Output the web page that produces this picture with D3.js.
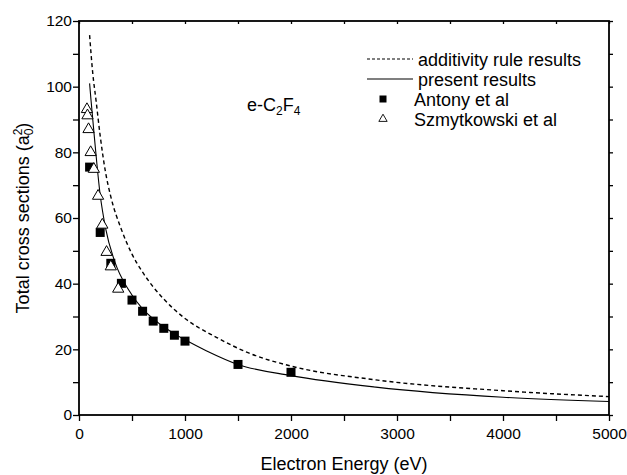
<!DOCTYPE html>
<html>
<head>
<meta charset="utf-8">
<script src="https://cdn.jsdelivr.net/npm/d3@7"></script>
<style>
  html, body { margin: 0; padding: 0; background: #fff; }
  svg { display: block; font-family: "Liberation Sans", Arial, sans-serif; }
</style>
</head>
<body>
<svg id="chart" width="627" height="475"></svg>
<script>
// ---- data ----
const additivityE = [100, 130, 160, 200, 250, 300, 400, 500, 600, 700, 800, 1000, 1300, 1600, 2000, 2800, 4000, 5000];
const additivityQ = [115.7, 104, 96, 85, 74, 66.5, 56.5, 49, 43.5, 39, 35.3, 29.4, 23.6, 18.9, 14.9, 10.7, 7.4, 5.6];

const presentE = [100, 113, 144, 200, 250, 340, 460, 600, 700, 800, 900, 1000, 1200, 1500, 2000, 2800, 4000, 5000];
const presentQ = [101, 96, 85, 67, 57, 46.5, 38.5, 32.3, 29.3, 26.9, 24.7, 22.9, 19.6, 15.4, 12.0, 8.5, 5.4, 4.1];

const antonyE = [100, 200, 300, 400, 500, 600, 700, 800, 900, 1000, 1500, 2000];
const antonyQ = [75.5, 55.6, 46.2, 40.1, 35.0, 31.6, 28.6, 26.4, 24.3, 22.5, 15.4, 13.0];

const szmytE = [75, 80, 90, 110, 140, 180, 220, 260, 300, 370];
const szmytQ = [93.1, 91.2, 87.0, 80.0, 74.9, 66.7, 57.9, 49.6, 45.2, 38.4];

const xTicks = [0, 1000, 2000, 3000, 4000, 5000];
const yTicks = [0, 20, 40, 60, 80, 100, 120];
const legendLabels = ["additivity rule results", "present results", "Antony et al", "Szmytkowski et al"];

// ---- layout ----
const svg = d3.select("#chart");
const x = d3.scaleLinear().domain([0, 5000]).range([79, 609]);
const y = d3.scaleLinear().domain([0, 120]).range([415, 21]);

// frame
const g = svg.append("g");
g.append("rect")
  .attr("x", x(0)).attr("y", y(120))
  .attr("width", x(5000) - x(0)).attr("height", y(0) - y(120))
  .attr("fill", "none").attr("stroke", "#000").attr("stroke-width", 1.8);

// axes
const xMinor = d3.range(0, 5001, 500);
const yMinor = d3.range(0, 121, 10);

const axBottom = g.append("g").attr("transform", `translate(0,${y(0)})`)
  .call(d3.axisBottom(x).tickValues(xMinor).tickSize(6)
    .tickFormat(d => xTicks.includes(d) ? d : ""));
const axLeft = g.append("g").attr("transform", `translate(${x(0)},0)`)
  .call(d3.axisLeft(y).tickValues(yMinor).tickSize(6)
    .tickFormat(d => yTicks.includes(d) ? d : ""));
const axTop = g.append("g").attr("transform", `translate(0,${y(120)})`)
  .call(d3.axisBottom(x).tickValues(xMinor).tickSize(3).tickFormat(""));
const axRight = g.append("g").attr("transform", `translate(${x(5000)},0)`)
  .call(d3.axisRight(y).tickValues(yMinor).tickSize(4).tickFormat(""));

[axBottom, axLeft, axTop, axRight].forEach(a => {
  a.select(".domain").remove();
  a.selectAll(".tick line").attr("stroke", "#000").attr("stroke-width", 1.3);
  a.selectAll("text").attr("font-size", 15.5).attr("fill", "#000")
    .attr("font-family", '"Liberation Sans", Arial, sans-serif');
});
axBottom.selectAll("text").attr("dy", "1.05em").attr("y", 8);
axLeft.selectAll("text").attr("x", -7);

// curves
const line = d3.line().x(d => x(d[0])).y(d => y(d[1])).curve(d3.curveMonotoneX);
g.append("path")
  .datum(d3.zip(additivityE, additivityQ))
  .attr("d", line).attr("fill", "none").attr("stroke", "#000")
  .attr("stroke-width", 1.4).attr("stroke-dasharray", "4,3");
g.append("path")
  .datum(d3.zip(presentE, presentQ))
  .attr("d", line).attr("fill", "none").attr("stroke", "#000")
  .attr("stroke-width", 1.1);

// markers
g.append("g").selectAll("rect")
  .data(d3.zip(antonyE, antonyQ)).join("rect")
  .attr("x", d => x(d[0]) - 4.5).attr("y", d => y(d[1]) - 4.5)
  .attr("width", 9).attr("height", 9).attr("fill", "#000");

const tri = d3.symbol().type(d3.symbolTriangle).size(55);
g.append("g").selectAll("path")
  .data(d3.zip(szmytE, szmytQ)).join("path")
  .attr("transform", d => `translate(${x(d[0])},${y(d[1])})`)
  .attr("d", tri).attr("fill", "#fff").attr("stroke", "#000").attr("stroke-width", 1);

// axis titles
svg.append("text")
  .attr("x", (x(0) + x(5000)) / 2).attr("y", 470)
  .attr("text-anchor", "middle").attr("font-size", 18).attr("fill", "#000")
  .text("Electron Energy (eV)");

const yl = svg.append("text")
  .attr("transform", `translate(29,${(y(0) + y(120)) / 2}) rotate(-90)`)
  .attr("text-anchor", "middle").attr("font-size", 18).attr("fill", "#000");
yl.append("tspan").text("Total cross sections (a");
yl.append("tspan").attr("font-size", 12).attr("dy", -7).text("2");
yl.append("tspan").attr("font-size", 12).attr("dx", -6.7).attr("dy", 11).text("0");
yl.append("tspan").attr("dy", -4).text(")");

// molecule label
const ml = svg.append("text").attr("x", 247).attr("y", 111)
  .attr("font-size", 18).attr("fill", "#000");
ml.append("tspan").text("e-C");
ml.append("tspan").attr("font-size", 12).attr("dy", 4).text("2");
ml.append("tspan").attr("dy", -4).text("F");
ml.append("tspan").attr("font-size", 12).attr("dy", 4).text("4");

// legend
const lg = svg.append("g");
const ly = [59, 79, 99, 119];
lg.append("line").attr("x1", 367).attr("x2", 413).attr("y1", ly[0]).attr("y2", ly[0])
  .attr("stroke", "#000").attr("stroke-width", 1.1).attr("stroke-dasharray", "3,2");
lg.append("line").attr("x1", 367).attr("x2", 413).attr("y1", ly[1]).attr("y2", ly[1])
  .attr("stroke", "#000").attr("stroke-width", 1.1);
lg.append("rect").attr("x", 383 - 3.5).attr("y", ly[2] - 3.5).attr("width", 7).attr("height", 7).attr("fill", "#000");
lg.append("path").attr("transform", `translate(383,${ly[3]})`)
  .attr("d", d3.symbol().type(d3.symbolTriangle).size(30))
  .attr("fill", "#fff").attr("stroke", "#000").attr("stroke-width", 0.9);
const lx = [418, 418, 414, 414];
legendLabels.forEach((t, i) => {
  lg.append("text").attr("x", lx[i]).attr("y", ly[i] + 6.5)
    .attr("font-size", 18).attr("fill", "#000").text(t);
});
</script>
</body>
</html>
